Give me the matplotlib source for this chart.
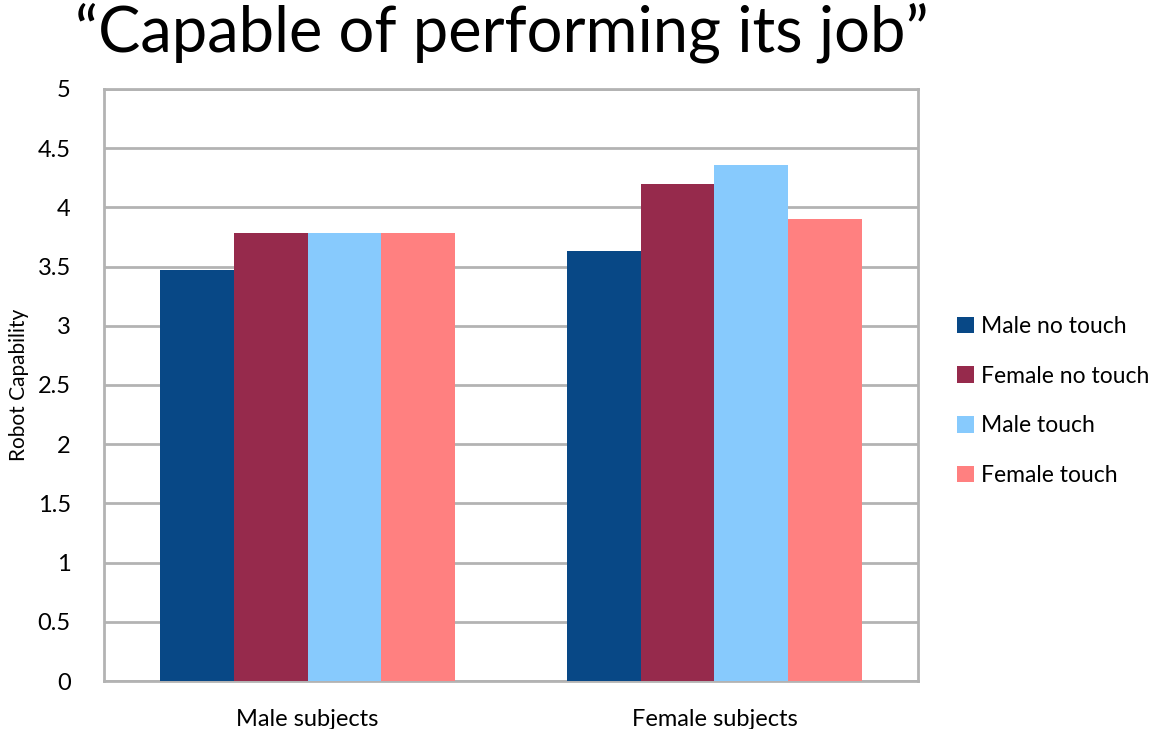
import matplotlib.pyplot as plt
import numpy as np

groups = ["Male subjects", "Female subjects"]
series = ["Male no touch", "Female no touch", "Male touch", "Female touch"]
values = [
    [3.47, 3.63],
    [3.78, 4.20],
    [3.78, 4.36],
    [3.78, 3.90],
]
colors = ["#084886", "#962A4C", "#87CAFD", "#FF8080"]
yticks = [0, 0.5, 1, 1.5, 2, 2.5, 3, 3.5, 4, 4.5, 5]

plt.rcParams["font.family"] = ["Lato", "DejaVu Sans"]

fig = plt.figure(figsize=(11.7, 7.29), dpi=100)
ax = fig.add_axes([0.0889, 0.0658, 0.6957, 0.8122])

x = np.arange(len(groups))
width = 0.181
for i, (name, vals) in enumerate(zip(series, values)):
    ax.bar(x + (i - 1.5) * width, vals, width, color=colors[i], label=name, zorder=3)

ax.set_xlim(-0.5, 1.5)
ax.set_ylim(0, 5)
ax.set_yticks(yticks)
ax.set_yticklabels([f"{t:g}" for t in yticks], fontsize=17)
ax.set_xticks(x)
ax.set_xticklabels(groups, fontsize=17)
ax.tick_params(length=0)
ax.tick_params(axis="y", pad=24)
ax.tick_params(axis="x", pad=20)
ax.grid(axis="y", color="#B3B3B3", linewidth=2, zorder=0)
for s in ax.spines.values():
    s.set_color("#B3B3B3")
    s.set_linewidth(2)
ax.set_ylabel("Robot Capability", fontsize=15, labelpad=6)

ax.legend(loc="center left", bbox_to_anchor=(0.818, 0.45), bbox_transform=fig.transFigure,
          frameon=False, fontsize=16.5, handlelength=0.75, handleheight=0.75,
          labelspacing=1.25, handletextpad=0.3, borderpad=0, borderaxespad=0)

fig.text(0.429, 0.955, "\u201cCapable of performing its job\u201d", fontsize=45.5,
         ha="center", va="center")

plt.savefig("out.png")
